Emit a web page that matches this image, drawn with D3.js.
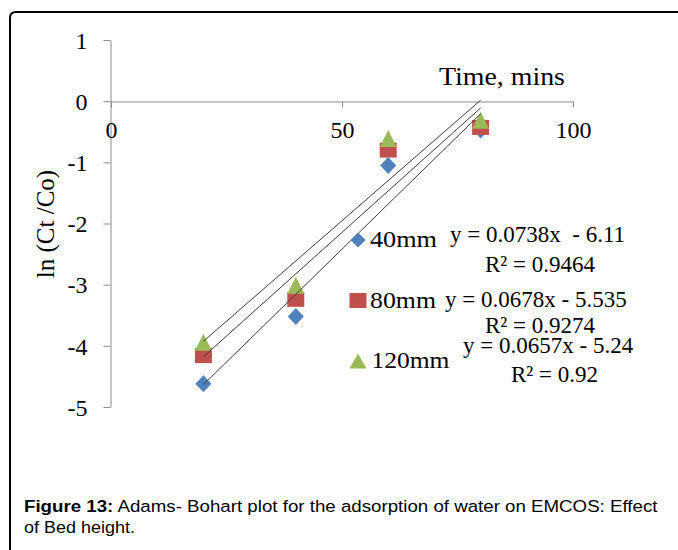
<!DOCTYPE html>
<html>
<head>
<meta charset="utf-8">
<script src="https://cdn.jsdelivr.net/npm/d3@7"></script>
<style>
  html, body { margin: 0; padding: 0; background: #fff; }
  svg { display: block; }
  .serif { font-family: "Liberation Serif", "Times New Roman", serif; fill: #000; }
  .cap { font-family: "Liberation Sans", Arial, sans-serif; fill: #000; }
</style>
</head>
<body>
<script>
// Adams-Bohart plot: ln(Ct/Co) vs time for three bed heights
const time = [20, 40, 60, 80];
const series = ["40mm", "80mm", "120mm"];
const ln40 = [-4.62, -3.52, -1.05, -0.47];
const ln80 = [-4.16, -3.24, -0.80, -0.43];
const ln120 = [-3.94, -3.01, -0.61, -0.31];
const slopes = [0.0738, 0.0678, 0.0657];
const intercepts = [-6.11, -5.535, -5.24];
const eqLabels = ["y = 0.0738x  - 6.11", "y = 0.0678x - 5.535", "y = 0.0657x - 5.24"];
const r2Labels = ["R² = 0.9464", "R² = 0.9274", "R² = 0.92"];
const xTicks = [0, 50, 100];
const yTicks = [1, 0, -1, -2, -3, -4, -5];
const colors = ["#4F81BD", "#C0504D", "#9BBB59"];
const values = [ln40, ln80, ln120];

const W = 678, H = 550;
const svg = d3.select("body").append("svg").attr("width", W).attr("height", H);

// stretch a start-anchored text horizontally so it spans the given width
function fitText(sel, x, y, width) {
  const natural = sel.node().getComputedTextLength();
  sel.attr("x", 0).attr("y", 0)
    .attr("transform", `translate(${x},${y}) scale(${width / natural},1)`);
  return sel;
}

// frame
svg.append("path")
  .attr("d", "M10,552 L10,18 Q10,12 16,12 L680,12")
  .attr("fill", "none").attr("stroke", "#000").attr("stroke-width", 2);

const x = d3.scaleLinear().domain([0, 100]).range([111, 573]);
const y = d3.scaleLinear().domain([-5, 1]).range([407, 40]);
const axisColor = "#8c8c8c";

// y axis
const gy = svg.append("g").attr("transform", "translate(110.5,0)")
  .call(d3.axisLeft(y).tickValues(yTicks).tickSize(7).tickSizeOuter(0).tickPadding(16)
    .tickFormat(d => String(d)));
gy.select(".domain").attr("stroke", axisColor);
gy.selectAll(".tick line").attr("stroke", axisColor);
gy.selectAll(".tick text").attr("class", "serif").attr("font-size", 24).attr("dy", "0.34em");

// x axis crossing at y = 0
const gx = svg.append("g").attr("transform", `translate(0,${Math.round(y(0)) + 0.5})`)
  .call(d3.axisBottom(x).tickValues(xTicks).tickSize(6).tickSizeOuter(0)
    .tickFormat(d => String(d)));
gx.select(".domain").attr("stroke", axisColor);
gx.selectAll(".tick line").attr("stroke", axisColor);
gx.selectAll(".tick text").attr("class", "serif").attr("font-size", 24).attr("y", 36).attr("dy", 0);

// axis titles
fitText(svg.append("text").attr("class", "serif").attr("font-size", 26).text("Time, mins"),
  439, 85, 126);
svg.append("text").attr("class", "serif").attr("font-size", 25)
  .attr("text-anchor", "middle")
  .attr("transform", "translate(54,224) rotate(-90)")
  .text("ln (Ct /Co)");

// marker shapes
function marker(i, w, h) {
  if (i === 0) return `M0,${-h / 2}L${w / 2},0L0,${h / 2}L${-w / 2},0Z`;
  if (i === 1) return `M${-w / 2},${-h / 2}H${w / 2}V${h / 2}H${-w / 2}Z`;
  return `M0,${-h / 2}L${w / 2},${h / 2}H${-w / 2}Z`;
}
const markerSize = [[16, 17], [17, 15], [17, 17]];

values.forEach((vals, i) => {
  svg.append("g").selectAll("path")
    .data(time.map((t, k) => [t, vals[k]]))
    .join("path")
    .attr("transform", d => `translate(${x(d[0])},${y(d[1])})`)
    .attr("d", marker(i, markerSize[i][0], markerSize[i][1]))
    .attr("fill", colors[i]);
});

// linear trendlines over the data range
const line = d3.line().x(d => x(d[0])).y(d => y(d[1]));
slopes.forEach((m, i) => {
  const x0 = d3.min(time), x1 = d3.max(time);
  svg.append("path")
    .attr("d", line([[x0, m * x0 + intercepts[i]], [x1, m * x1 + intercepts[i]]]))
    .attr("fill", "none").attr("stroke", "#3c3c3c").attr("stroke-width", 1);
});

// legend
const legY = [240, 300.5, 361];
const legendSize = [[15, 15], [17, 15], [17, 15]];
const legendTextW = [67, 66, 78];
series.forEach((s, i) => {
  svg.append("path")
    .attr("transform", `translate(358,${legY[i]})`)
    .attr("d", marker(i, legendSize[i][0], legendSize[i][1]))
    .attr("fill", colors[i]);
  fitText(svg.append("text").attr("class", "serif").attr("font-size", 23).text(s),
    370 + (i === 2 ? 1.5 : 0), legY[i] + 7, legendTextW[i]);
});

// trendline equations
const eqPos = [[450, 242], [445, 307], [463, 353]];
const r2Pos = [[485, 272], [485, 333], [511, 382]];
eqLabels.forEach((t, i) => {
  svg.append("text").attr("class", "serif").attr("font-size", 23)
    .style("white-space", "pre")
    .attr("x", eqPos[i][0]).attr("y", eqPos[i][1]).text(t);
  svg.append("text").attr("class", "serif").attr("font-size", 23)
    .attr("x", r2Pos[i][0]).attr("y", r2Pos[i][1]).text(r2Labels[i]);
});

// caption
const cap = svg.append("text").attr("class", "cap").attr("font-size", 17);
cap.append("tspan").attr("font-weight", "bold").text("Figure 13:");
cap.append("tspan").text(" Adams- Bohart plot for the adsorption of water on EMCOS: Effect");
fitText(cap, 24, 512, 634);
fitText(svg.append("text").attr("class", "cap").attr("font-size", 17).text("of Bed height."),
  24, 533, 111);
</script>
</body>
</html>
